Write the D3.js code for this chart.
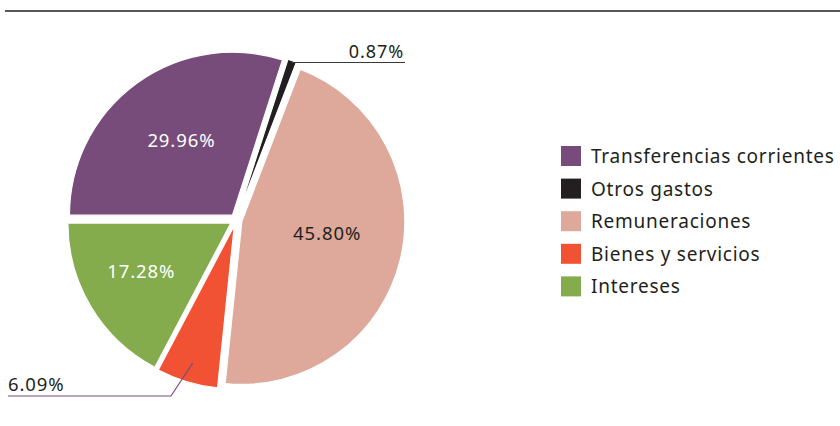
<!DOCTYPE html>
<html lang="es">
<head>
<meta charset="utf-8">
<title>Gastos</title>
<script src="https://d3js.org/d3.v7.min.js"></script>
<style>
  body { margin: 0; background: #fff; }
  text { font-family: "Noto Sans", sans-serif; }
</style>
</head>
<body>
<svg width="840" height="426"></svg>
<script>
    // datos
    var categorias = ["Otros gastos", "Remuneraciones", "Bienes y servicios", "Intereses", "Transferencias corrientes"];
    var valores = [0.87, 45.80, 6.09, 17.28, 29.96];
    var etiquetas = ["0.87%", "45.80%", "6.09%", "17.28%", "29.96%"];
    var colores = ["#231f20", "#dea99b", "#f05233", "#84ab4c", "#774c7a"];
    var ordenLeyenda = ["Transferencias corrientes", "Otros gastos", "Remuneraciones", "Bienes y servicios", "Intereses"];

    var svg = d3.select("svg");
    var cx = 236, cy = 220, radio = 163, explota = 6;

    // linea superior
    svg.append("line")
        .attr("x1", 5).attr("x2", 840)
        .attr("y1", 11).attr("y2", 11)
        .attr("stroke", "#58585a")
        .attr("stroke-width", 2);

    var color = d3.scaleOrdinal().domain(categorias).range(colores);

    // el borde Intereses/Transferencias queda a las 9 en punto
    var inicio = 2 * Math.PI * (0.75 + 0.2996) - 2 * Math.PI;
    var pie = d3.pie()
        .sort(null)
        .value(function(d){ return d; })
        .startAngle(inicio)
        .endAngle(inicio + 2 * Math.PI);

    var arcos = pie(valores);
    var arc = d3.arc().innerRadius(0).outerRadius(radio);

    var g = svg.append("g").attr("transform", "translate(" + cx + "," + cy + ")");

    function desplaza(d, k) {
        var a = (d.startAngle + d.endAngle) / 2;
        return [Math.sin(a) * k, -Math.cos(a) * k];
    }

    g.selectAll("path")
        .data(arcos)
        .enter()
        .append("path")
        .attr("d", arc)
        .attr("fill", function(d, i){ return color(categorias[i]); })
        .attr("stroke", "#fff")
        .attr("stroke-width", 1.2)
        .attr("transform", function(d){
            var o = desplaza(d, explota);
            return "translate(" + o[0] + "," + o[1] + ")";
        });

    // etiquetas dentro de las porciones grandes
    var arcEtiqueta = d3.arc().innerRadius(radio * 0.6).outerRadius(radio * 0.6);
    var dentro = [1, 3, 4];
    var ajuste = {1: [-4, -9], 3: [-11, 1], 4: [3, 0]};
    g.selectAll("text.dentro")
        .data(dentro)
        .enter()
        .append("text")
        .attr("class", "dentro")
        .attr("text-anchor", "middle")
        .attr("font-size", 18.5)
        .attr("letter-spacing", 0.9)
        .attr("fill", function(i){ return i === 1 ? "#231f20" : "#fff"; })
        .attr("x", function(i){ return arcEtiqueta.centroid(arcos[i])[0] + ajuste[i][0]; })
        .attr("y", function(i){ return arcEtiqueta.centroid(arcos[i])[1] + 6 + ajuste[i][1]; })
        .text(function(i){ return etiquetas[i]; });

    // 0.87% con linea guia
    var pOtros = d3.arc().innerRadius(radio - 2).outerRadius(radio - 2).centroid(arcos[0]);
    var oOtros = desplaza(arcos[0], explota);
    var xO = cx + pOtros[0] + oOtros[0], yO = cy + pOtros[1] + oOtros[1];
    svg.append("line")
        .attr("x1", xO).attr("y1", yO)
        .attr("x2", 405).attr("y2", yO)
        .attr("stroke", "#3a3a3a").attr("stroke-width", 1.2);
    svg.append("text")
        .attr("x", 404).attr("y", yO - 5)
        .attr("text-anchor", "end")
        .attr("font-size", 18)
        .attr("letter-spacing", 0.9)
        .attr("fill", "#231f20")
        .text(etiquetas[0]);

    // 6.09% con linea guia
    var pBienes = d3.arc().innerRadius(radio * 0.88).outerRadius(radio * 0.88).centroid(arcos[2]);
    var oBienes = desplaza(arcos[2], explota);
    var xB = cx + pBienes[0] + oBienes[0], yB = cy + pBienes[1] + oBienes[1];
    svg.append("polyline")
        .attr("points", [[xB, yB], [171, 396], [8, 396]].join(" "))
        .attr("fill", "none")
        .attr("stroke", "#774c7a").attr("stroke-width", 1.2);
    svg.append("text")
        .attr("x", 8).attr("y", 391)
        .attr("font-size", 18.5)
        .attr("letter-spacing", 0.9)
        .attr("fill", "#231f20")
        .text(etiquetas[2]);

    // leyenda
    var yLeyenda = d3.scaleBand().domain(ordenLeyenda).range([146, 309]);
    var ley = svg.append("g").selectAll("g")
        .data(ordenLeyenda)
        .enter()
        .append("g")
        .attr("transform", function(d){ return "translate(561," + yLeyenda(d) + ")"; });
    ley.append("rect")
        .attr("width", 20).attr("height", 20)
        .attr("fill", function(d){ return color(d); });
    ley.append("text")
        .attr("x", 30).attr("y", 17)
        .attr("font-size", 19)
        .attr("letter-spacing", 0.75)
        .attr("fill", "#231f20")
        .text(function(d){ return d; });
</script>
</body>
</html>
